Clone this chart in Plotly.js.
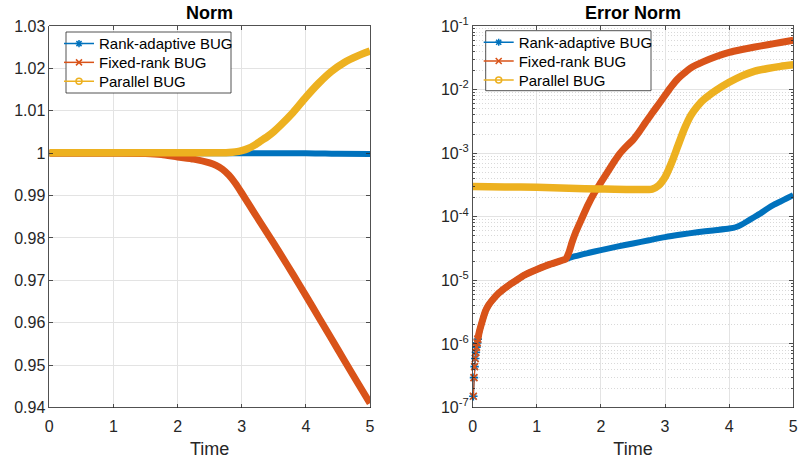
<!DOCTYPE html>
<html>
<head>
<meta charset="utf-8">
<script src="https://cdn.plot.ly/plotly-3.0.1.min.js"></script>
<style>
  html, body { margin: 0; padding: 0; background: #fff; }
  #chart { width: 798px; height: 462px; }
</style>
</head>
<body>
<div id="chart"></div>
<script>
// ---- Norm of the solution over time ----
const normTimeAdaptive = [0, 0.5, 1, 1.5, 2, 2.5, 3, 3.5, 4, 4.3, 4.5, 5];
const normAdaptive     = [1, 1, 1, 1, 1, 1, 1, 0.99999, 0.99996, 0.99992, 0.99985, 0.9998];

const normTimeFixed = [0, 0.5, 1, 1.5, 1.75, 2, 2.25, 2.5, 2.6, 2.7, 2.8, 2.9, 3, 3.1, 3.2, 3.4, 3.6, 3.8, 4, 4.2, 4.4, 4.6, 4.8, 5];
const normFixed     = [1, 1, 1, 0.99995, 0.9997, 0.9991, 0.9986, 0.9977, 0.9971, 0.9962, 0.9948, 0.9929, 0.9906, 0.9882, 0.9858, 0.9811, 0.9763, 0.9714, 0.9664, 0.9613, 0.9562, 0.9511, 0.946, 0.941];

const normTimeParallel = [0, 0.5, 1, 1.5, 2, 2.5, 2.7, 2.8, 2.9, 3, 3.1, 3.2, 3.3, 3.4, 3.5, 3.6, 3.8, 4, 4.2, 4.4, 4.6, 4.8, 5];
const normParallel     = [1.0001, 1.0001, 1.0001, 1.0001, 1.0001, 1.0001, 1.0001, 1.00015, 1.0003, 1.0006, 1.0011, 1.0019, 1.0029, 1.0039, 1.0051, 1.0065, 1.0096, 1.0132, 1.0165, 1.0193, 1.0214, 1.0229, 1.0241];

// ---- Error norm over time (log scale) ----
// rank-adaptive and fixed-rank coincide until t ~ 1.45
const errTimeShared = [0.01, 0.02, 0.03, 0.04, 0.05, 0.06, 0.07, 0.08, 0.1, 0.12, 0.15, 0.2, 0.25, 0.3, 0.4, 0.5, 0.6, 0.7, 0.8, 0.9, 1.0, 1.2, 1.4, 1.45];
const errShared     = [1.5e-7, 2.95e-7, 4.4e-7, 5.9e-7, 7.4e-7, 8.9e-7, 1.04e-6, 1.19e-6, 1.5e-6, 1.8e-6, 2.3e-6, 3.3e-6, 4.1e-6, 4.8e-6, 6.2e-6, 7.5e-6, 8.9e-6, 1.03e-5, 1.2e-5, 1.34e-5, 1.48e-5, 1.78e-5, 2.07e-5, 2.15e-5];

const errTimeAdaptiveTail = [1.6, 1.8, 2.0, 2.25, 2.5, 2.75, 3.0, 3.25, 3.5, 3.75, 4.0, 4.1, 4.2, 4.3, 4.4, 4.5, 4.6, 4.7, 4.8, 4.9, 5.0];
const errAdaptiveTail     = [2.4e-5, 2.69e-5, 2.99e-5, 3.39e-5, 3.8e-5, 4.27e-5, 4.79e-5, 5.25e-5, 5.69e-5, 6.1e-5, 6.53e-5, 6.84e-5, 7.59e-5, 8.71e-5, 1.0e-4, 1.15e-4, 1.35e-4, 1.55e-4, 1.74e-4, 1.95e-4, 2.19e-4];

const errTimeFixedTail = [1.5, 1.55, 1.6, 1.7, 1.8, 1.9, 2.0, 2.1, 2.2, 2.3, 2.4, 2.5, 2.6, 2.7, 2.8, 2.9, 3.0, 3.1, 3.2, 3.3, 3.4, 3.6, 3.8, 4.0, 4.2, 4.4, 4.6, 4.8, 5.0];
const errFixedTail     = [2.75e-5, 3.98e-5, 5.5e-5, 9.3e-5, 1.55e-4, 2.4e-4, 3.47e-4, 5.0e-4, 7.2e-4, 1.0e-3, 1.29e-3, 1.62e-3, 2.19e-3, 3.09e-3, 4.27e-3, 5.89e-3, 8.13e-3, 1.12e-2, 1.48e-2, 1.82e-2, 2.19e-2, 2.75e-2, 3.31e-2, 3.85e-2, 4.27e-2, 4.68e-2, 5.07e-2, 5.5e-2, 5.96e-2];

const errTimeParallel = [0, 0.5, 1.0, 1.5, 2.0, 2.5, 2.8, 2.9, 3.0, 3.1, 3.2, 3.3, 3.4, 3.5, 3.6, 3.8, 4.0, 4.2, 4.4, 4.6, 4.8, 5.0];
const errParallel     = [3.0e-4, 2.95e-4, 2.9e-4, 2.8e-4, 2.73e-4, 2.68e-4, 2.72e-4, 3.1e-4, 4.2e-4, 7.0e-4, 1.3e-3, 2.4e-3, 3.9e-3, 5.4e-3, 6.9e-3, 9.8e-3, 1.3e-2, 1.64e-2, 1.95e-2, 2.15e-2, 2.32e-2, 2.45e-2];

const errTimeAdaptive = errTimeShared.concat(errTimeAdaptiveTail);
const errAdaptive     = errShared.concat(errAdaptiveTail);
const errTimeFixed    = errTimeShared.concat(errTimeFixedTail);
const errFixed        = errShared.concat(errFixedTail);

// ---- Labels ----
const seriesNames = ['Rank-adaptive BUG', 'Fixed-rank BUG', 'Parallel BUG'];
const panelTitles = ['Norm', 'Error Norm'];
const xLabel = 'Time';
const timeTicks = [0, 1, 2, 3, 4, 5];
const timeTickText = ['0', '1', '2', '3', '4', '5'];
const normTicks = [0.94, 0.95, 0.96, 0.97, 0.98, 0.99, 1, 1.01, 1.02, 1.03];
const normTickText = ['0.94', '0.95', '0.96', '0.97', '0.98', '0.99', '1', '1.01', '1.02', '1.03'];
const errTicks = [1e-7, 1e-6, 1e-5, 1e-4, 1e-3, 1e-2, 1e-1];
const errTickText = ['10<sup>-7</sup>', '10<sup>-6</sup>', '10<sup>-5</sup>', '10<sup>-4</sup>', '10<sup>-3</sup>', '10<sup>-2</sup>', '10<sup>-1</sup>'];

// ---- Styling ----
const colors  = ['#0072BD', '#D95319', '#EDB120'];
const symbols = ['asterisk-open', 'x-thin-open', 'circle-open'];
const widths  = [6, 7, 7.5];
const FONT = 'Liberation Sans, Arial, Helvetica, sans-serif';
const AXIS_COLOR = '#262626';
const GRID = '#e3e3e3';
const W = 798, H = 462;

// minor log gridlines: 2..9 within each decade
const errMinor = [];
for (let e = -7; e < -1; e++) {
  for (let k = 2; k <= 9; k++) errMinor.push(k * Math.pow(10, e));
}

const traces = [];

// thick curve (dense markers merge into a band)
function band(x, y, i, xa, ya) {
  traces.push({
    x: x, y: y, xaxis: xa, yaxis: ya, type: 'scatter', mode: 'lines',
    line: { color: colors[i], width: widths[i], shape: 'spline', smoothing: 0.6 },
    showlegend: false, hoverinfo: 'skip'
  });
}
// individual early markers joined by a thin line
function sparse(x, y, i, xa, ya) {
  traces.push({
    x: x, y: y, xaxis: xa, yaxis: ya, type: 'scatter', mode: 'lines+markers',
    line: { color: colors[i], width: 1.2 },
    marker: { symbol: symbols[i], size: 7, color: colors[i], line: { color: colors[i], width: 1.6 } },
    showlegend: false, hoverinfo: 'skip', cliponaxis: false
  });
}

// left panel: norm
band(normTimeAdaptive, normAdaptive, 0, 'x', 'y');
band(normTimeFixed, normFixed, 1, 'x', 'y');
band(normTimeParallel, normParallel, 2, 'x', 'y');

// right panel: error norm
const nEarly = 8;
sparse(errTimeAdaptive.slice(0, nEarly), errAdaptive.slice(0, nEarly), 0, 'x2', 'y2');
band(errTimeAdaptive.slice(nEarly - 1), errAdaptive.slice(nEarly - 1), 0, 'x2', 'y2');
sparse(errTimeFixed.slice(0, nEarly), errFixed.slice(0, nEarly), 1, 'x2', 'y2');
band(errTimeFixed.slice(nEarly - 1), errFixed.slice(nEarly - 1), 1, 'x2', 'y2');
band(errTimeParallel, errParallel, 2, 'x2', 'y2');

// legends: one single-entry legend per row so the row spacing is compact,
// with a framed box drawn behind each group
const legendBoxes = [
  { x0: 66, x1: 231, y0: 32, y1: 93, xa: 'x', ya: 'y' },
  { x0: 485.7, x1: 651, y0: 30.7, y1: 90.7, xa: 'x2', ya: 'y2' }
];
const rowOffsets = [11.8, 30.6, 49.5];
const layoutLegends = {};
const shapes = [];
let legendCount = 0;
legendBoxes.forEach(function (box) {
  shapes.push({
    type: 'rect', xref: 'paper', yref: 'paper', layer: 'above',
    x0: box.x0 / W, x1: box.x1 / W, y0: 1 - box.y1 / H, y1: 1 - box.y0 / H,
    fillcolor: '#ffffff', line: { color: AXIS_COLOR, width: 0.8 }
  });
  for (let i = 0; i < 3; i++) {
    legendCount++;
    const id = legendCount === 1 ? 'legend' : 'legend' + legendCount;
    traces.push({
      x: [null], y: [null], type: 'scatter', mode: 'lines+markers', name: seriesNames[i],
      xaxis: box.xa, yaxis: box.ya,
      line: { color: colors[i], width: 1.5 },
      marker: { symbol: symbols[i], size: 6, color: colors[i], line: { color: colors[i], width: 1.5 } },
      legend: id, showlegend: true
    });
    layoutLegends[id] = {
      x: (box.x0 - 7) / W, y: 1 - (box.y0 + rowOffsets[i]) / H, xanchor: 'left', yanchor: 'middle',
      bgcolor: 'rgba(0,0,0,0)', borderwidth: 0,
      font: { family: FONT, size: 15, color: '#000' }, itemwidth: 30
    };
  }
});

function xAxis(domain, anchor) {
  return {
    domain: domain, anchor: anchor, range: [0, 5], type: 'linear',
    tickmode: 'array', tickvals: timeTicks, ticktext: timeTickText,
    ticks: 'inside', ticklen: 4, tickcolor: AXIS_COLOR, tickwidth: 0.8,
    showline: true, linecolor: AXIS_COLOR, linewidth: 0.8, mirror: 'ticks',
    showgrid: true, gridcolor: GRID, gridwidth: 1, zeroline: false,
    ticklabelstandoff: 4,
    tickfont: { family: FONT, size: 16, color: AXIS_COLOR },
    title: { text: xLabel, font: { family: FONT, size: 18, color: AXIS_COLOR }, standoff: 8 },
    automargin: false, fixedrange: true
  };
}

const layout = Object.assign({
  width: W, height: H,
  margin: { l: 0, r: 0, t: 0, b: 0 },
  paper_bgcolor: '#fff', plot_bgcolor: '#fff',
  showlegend: true,
  font: { family: FONT, color: AXIS_COLOR },
  xaxis: xAxis([49.3 / W, 370 / W], 'y'),
  xaxis2: xAxis([472.7 / W, 793.3 / W], 'y2'),
  yaxis: {
    domain: [1 - 407.5 / H, 1 - 26 / H], anchor: 'x', range: [0.94, 1.03],
    tickmode: 'array', tickvals: normTicks, ticktext: normTickText,
    ticks: 'inside', ticklen: 4, tickcolor: AXIS_COLOR, tickwidth: 0.8,
    showline: true, linecolor: AXIS_COLOR, linewidth: 0.8, mirror: 'ticks',
    showgrid: true, gridcolor: GRID, zeroline: false,
    tickfont: { family: FONT, size: 16, color: AXIS_COLOR },
    automargin: false, fixedrange: true
  },
  yaxis2: {
    domain: [1 - 407.5 / H, 1 - 26 / H], anchor: 'x2', type: 'log', range: [-7, -1],
    tickmode: 'array', tickvals: errTicks, ticktext: errTickText,
    ticks: 'inside', ticklen: 4, tickcolor: AXIS_COLOR, tickwidth: 0.8,
    showline: true, linecolor: AXIS_COLOR, linewidth: 0.8, mirror: 'ticks',
    showgrid: true, gridcolor: GRID, zeroline: false,
    minor: { tickmode: 'array', tickvals: errMinor, ticks: 'inside', ticklen: 2, tickcolor: AXIS_COLOR,
             showgrid: true, gridcolor: '#d9d9d9', griddash: '1px,2px', gridwidth: 1 },
    tickfont: { family: FONT, size: 16, color: AXIS_COLOR },
    automargin: false, fixedrange: true
  },
  shapes: shapes,
  annotations: [
    { text: '<b>' + panelTitles[0] + '</b>', xref: 'paper', yref: 'paper', x: (49.3 + 370) / 2 / W, y: 1 - 13 / H,
      xanchor: 'center', yanchor: 'middle', showarrow: false, font: { family: FONT, size: 18, color: '#000' } },
    { text: '<b>' + panelTitles[1] + '</b>', xref: 'paper', yref: 'paper', x: (472.7 + 793.3) / 2 / W, y: 1 - 13 / H,
      xanchor: 'center', yanchor: 'middle', showarrow: false, font: { family: FONT, size: 18, color: '#000' } }
  ]
}, layoutLegends);

Plotly.newPlot('chart', traces, layout, { staticPlot: true, displayModeBar: false });
</script>
</body>
</html>
